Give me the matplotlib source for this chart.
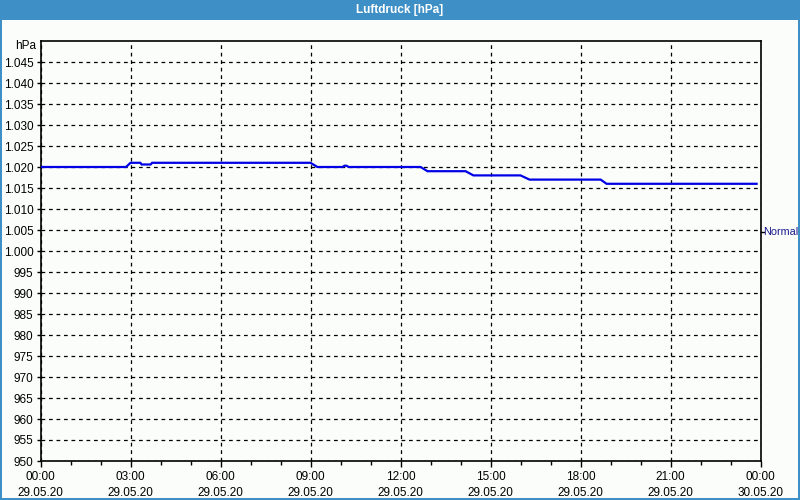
import matplotlib
matplotlib.use("Agg")
import matplotlib.pyplot as plt
from matplotlib.patches import Rectangle
from matplotlib.ticker import MultipleLocator

plt.rcParams['font.family'] = ['Liberation Sans', 'DejaVu Sans']

# ---- data ----
hours = [0.0, 2.85, 3.0, 3.33, 3.37, 3.67, 3.72, 9.0, 9.23, 10.07, 10.13, 10.2, 10.27,
         12.67, 12.9, 14.17, 14.43, 16.0, 16.3, 18.67, 18.87, 23.87]
pressure = [1020.0, 1020.0, 1021.0, 1021.0, 1020.6, 1020.6, 1021.0, 1021.0, 1020.0, 1020.0,
            1020.3, 1020.3, 1020.0, 1020.0, 1019.0, 1019.0, 1018.0, 1018.0, 1017.0, 1017.0,
            1016.0, 1016.0]
normal_value = 1004.5
y_ticks = [950, 955, 960, 965, 970, 975, 980, 985, 990, 995, 1000, 1005, 1010, 1015,
           1020, 1025, 1030, 1035, 1040, 1045]
x_tick_hours = [0, 3, 6, 9, 12, 15, 18, 21, 24]
x_tick_labels = ["00:00\n29.05.20", "03:00\n29.05.20", "06:00\n29.05.20", "09:00\n29.05.20",
                 "12:00\n29.05.20", "15:00\n29.05.20", "18:00\n29.05.20", "21:00\n29.05.20",
                 "00:00\n30.05.20"]
title = "Luftdruck [hPa]"

def fmt(v):
    return f"{v:,}".replace(",", ".")

bg = "#fafdfa"
frame_blue = "#3d8fc6"

fig = plt.figure(figsize=(8, 5), dpi=100, facecolor=bg)

# window frame
fig.patches.append(Rectangle((0, 1 - 20 / 500), 1, 20 / 500, transform=fig.transFigure,
                             facecolor=frame_blue, edgecolor="none", zorder=0))
fig.patches.append(Rectangle((0, 0), 2 / 800, 1, transform=fig.transFigure,
                             facecolor=frame_blue, edgecolor="none", zorder=0))
fig.patches.append(Rectangle((1 - 2 / 800, 0), 2 / 800, 1, transform=fig.transFigure,
                             facecolor=frame_blue, edgecolor="none", zorder=0))
fig.patches.append(Rectangle((0, 0), 1, 2 / 500, transform=fig.transFigure,
                             facecolor=frame_blue, edgecolor="none", zorder=0))
fig.text(0.5, 1 - 10.5 / 500, title, ha="center", va="center", color="white",
         fontsize=8.5, fontweight="bold")

ax = fig.add_axes([40.5 / 800, 1 - 461 / 500, 720 / 800, 420 / 500])
ax.set_facecolor(bg)
ax.plot(hours, pressure, color="#0000e6", lw=1.6, solid_joinstyle="miter", zorder=3)

ax.set_xlim(0, 24)
ax.set_ylim(950, 1050)
ax.set_yticks(y_ticks)
ax.set_yticklabels([fmt(v) for v in y_ticks], fontsize=8.5)
ax.set_xticks(x_tick_hours)
ax.set_xticklabels(x_tick_labels, fontsize=8.5, linespacing=1.45)
ax.xaxis.set_minor_locator(MultipleLocator(1))
ax.tick_params(axis="x", which="major", length=4, width=1, pad=3, color="black")
ax.tick_params(axis="x", which="minor", length=3, width=1, color="black")
ax.tick_params(axis="y", length=3, width=1, pad=2)

ax.grid(True, which="major", color="black", linestyle=(0, (3, 3)), linewidth=0.9)
for s in ax.spines.values():
    s.set_color("black")
    s.set_linewidth(1.2)

ax.text(-0.006, 1.0 - 5 / 420, "hPa", transform=ax.transAxes, ha="right", va="center",
        fontsize=8.5)

# Normal marker on right axis
ax.plot([24, 24.1], [normal_value, normal_value], color="black", lw=1, clip_on=False)
ax.text(24.1, normal_value, "Normal", ha="left", va="center", fontsize=7.8,
        color="#1a1a8c", clip_on=False)

fig.savefig("out.png", dpi=100, facecolor=bg)
